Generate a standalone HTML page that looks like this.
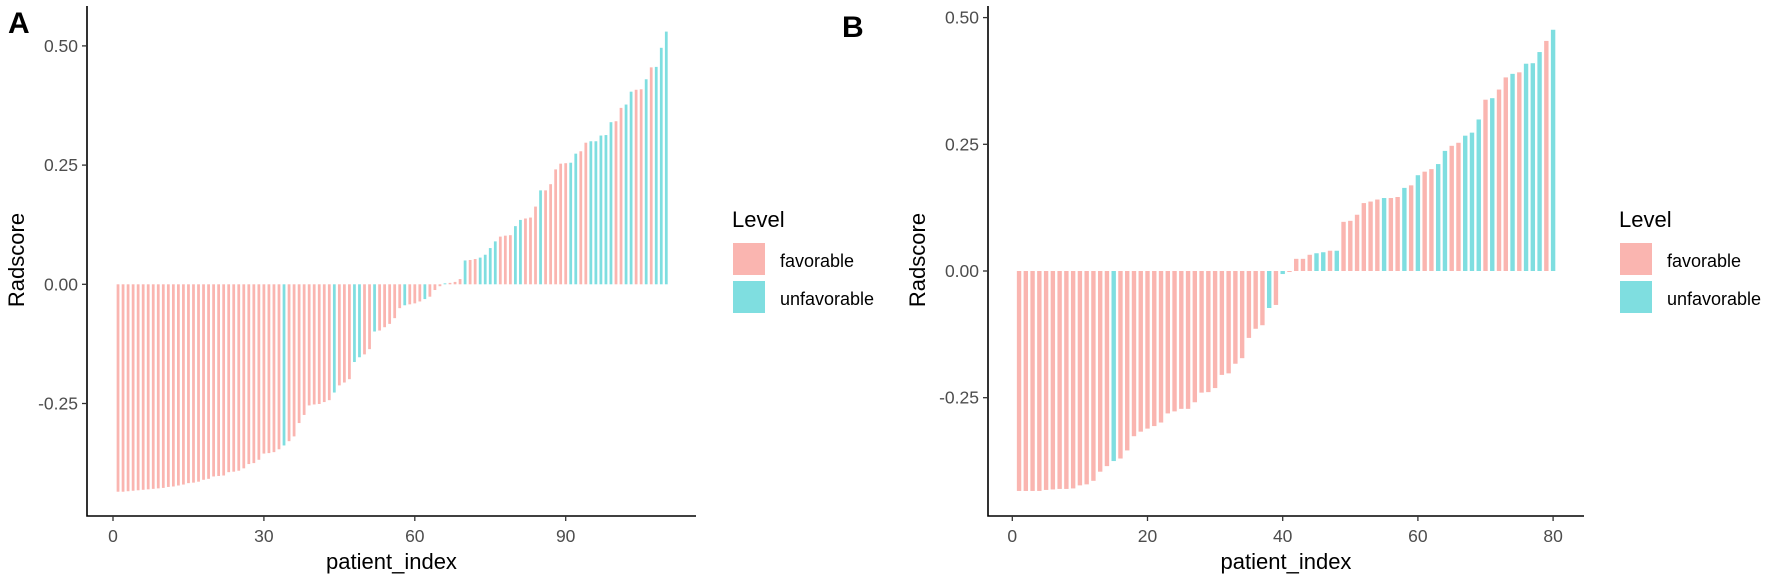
<!DOCTYPE html>
<html><head><meta charset="utf-8"><style>
html,body{margin:0;padding:0;background:#fff;width:1772px;height:582px;overflow:hidden}
svg{display:block;font-family:"Liberation Sans",Arial,sans-serif}
</style></head><body>
<svg id="chart" width="1772" height="582" viewBox="0 0 1772 582">
<text x="8" y="33" font-size="30" font-weight="bold" fill="#000">A</text>
<text x="842" y="37" font-size="30" font-weight="bold" fill="#000">B</text>
</svg>
<script>
// Panel A data
const aValues = [-0.435,-0.435,-0.434,-0.433,-0.432,-0.431,-0.430,-0.429,-0.428,-0.427,
-0.425,-0.424,-0.422,-0.420,-0.417,-0.416,-0.414,-0.410,-0.408,-0.403,
-0.402,-0.401,-0.394,-0.393,-0.391,-0.386,-0.377,-0.375,-0.368,-0.355,
-0.354,-0.352,-0.346,-0.338,-0.329,-0.319,-0.291,-0.274,-0.254,-0.252,
-0.251,-0.247,-0.243,-0.227,-0.212,-0.206,-0.199,-0.163,-0.153,-0.147,
-0.136,-0.099,-0.097,-0.090,-0.083,-0.071,-0.050,-0.044,-0.042,-0.040,
-0.036,-0.031,-0.026,-0.012,-0.004,0.002,0.003,0.005,0.011,0.050,
0.051,0.053,0.056,0.062,0.076,0.090,0.100,0.102,0.103,0.122,
0.135,0.138,0.140,0.163,0.197,0.197,0.210,0.241,0.253,0.254,
0.255,0.274,0.279,0.297,0.300,0.300,0.312,0.313,0.340,0.342,
0.370,0.377,0.404,0.408,0.409,0.430,0.455,0.456,0.496,0.530];
const aUnfavorable = [34,44,48,49,52,58,62,66,70,73,74,75,76,80,81,85,91,92,95,96,97,98,99,102,103,106,108,109,110];
const aXTicks = [0,30,60,90];
const aYTicks = [0.50,0.25,0.00,-0.25];
const aYTickLabels = ["0.50","0.25","0.00","-0.25"];
// Panel B data
const bValues = [-0.434,-0.434,-0.434,-0.434,-0.432,-0.431,-0.430,-0.430,-0.429,-0.423,
-0.421,-0.414,-0.396,-0.385,-0.375,-0.370,-0.354,-0.326,-0.317,-0.311,
-0.306,-0.299,-0.281,-0.277,-0.272,-0.272,-0.259,-0.240,-0.239,-0.231,
-0.205,-0.202,-0.183,-0.172,-0.132,-0.114,-0.107,-0.073,-0.067,-0.006,
-0.002,0.024,0.024,0.032,0.035,0.037,0.040,0.040,0.097,0.099,
0.111,0.134,0.137,0.141,0.144,0.144,0.146,0.164,0.169,0.189,
0.196,0.201,0.211,0.237,0.247,0.253,0.267,0.273,0.299,0.338,
0.341,0.358,0.382,0.389,0.392,0.409,0.410,0.432,0.454,0.476];
const bUnfavorable = [15,38,40,45,46,48,55,58,60,63,64,67,68,69,71,74,76,77,78,80];
const bXTicks = [0,20,40,60,80];
const bYTicks = [0.50,0.25,0.00,-0.25];
const bYTickLabels = ["0.50","0.25","0.00","-0.25"];

const NS = "http://www.w3.org/2000/svg";
const svg = document.getElementById('chart');
const PINK = "#FAB5B0", TEAL = "#7FDEE0";
function mk(tag, attrs, parent){
  const e = document.createElementNS(NS, tag);
  for (const k in attrs) e.setAttribute(k, attrs[k]);
  (parent||svg).appendChild(e); return e;
}
function panel(cfg){
  const g = mk('g', {});
  
  
  const xs = v => cfg.x0 + v*cfg.xk;
  const ys = v => cfg.y0 - v*cfg.yk;
  const bars = mk('g', {}, g);
  
  
  cfg.values.forEach((v,i)=>{
    const idx = i+1;
    const cx = xs(idx), w = cfg.bw*cfg.xk;
    const y1 = ys(Math.max(v,0)), y2 = ys(Math.min(v,0));
    const r = mk('rect', {x:cx-w/2, y:y1, width:w, height:Math.max(y2-y1,0.5),
      fill: cfg.unf.includes(idx)?TEAL:PINK}, bars);
    
    
  });
  // axes
  const ax = mk('path', {d:`M${cfg.left},${cfg.top} V${cfg.bottom} H${cfg.right}`, fill:'none', stroke:'#000', 'stroke-width':1.6}, g);
  
  
  cfg.xt.forEach(t=>{
    const x = xs(t);
    mk('line', {x1:x, x2:x, y1:cfg.bottom, y2:cfg.bottom+5, stroke:'#333', 'stroke-width':1.3}, g);
    const tx = mk('text', {x:x, y:542, 'font-size':17.5, fill:'#4d4d4d', 'text-anchor':'middle'}, g);
    tx.textContent = String(t);
    
    
  });
  cfg.yt.forEach((t,i)=>{
    const y = ys(t);
    mk('line', {x1:cfg.left-5, x2:cfg.left, y1:y, y2:y, stroke:'#333', 'stroke-width':1.3}, g);
    const tx = mk('text', {x:cfg.left-9, y:y+6, 'font-size':17.5, fill:'#4d4d4d', 'text-anchor':'end'}, g);
    tx.textContent = cfg.ytl[i];
    
    
  });
  const xt = mk('text', {x:(cfg.left+cfg.right)/2, y:569, 'font-size':22, fill:'#000', 'text-anchor':'middle'}, g);
  xt.textContent = 'patient_index';
  
  
  const yt = mk('text', {x:0, y:0, 'font-size':22, fill:'#000', 'text-anchor':'middle', transform:`translate(${cfg.ytx},260) rotate(-90)`}, g);
  yt.textContent = 'Radscore';
  
  
  // legend
  const lg = mk('g', {}, g);
  
  
  const lt = mk('text', {x:cfg.lx, y:227, 'font-size':22, fill:'#000'}, lg);
  lt.textContent = 'Level';
  
  
  [['favorable',PINK,243],['unfavorable',TEAL,281]].forEach(([lab,col,y])=>{
    const e = mk('g', {}, lg);
    
    
    mk('rect', {x:cfg.lx+1, y:y, width:32, height:32, fill:col}, e);
    const t = mk('text', {x:cfg.lx+48, y:y+24, 'font-size':18, fill:'#000'}, e);
    t.textContent = lab;
  });
}
panel({name:'panel-a', values:aValues, unf:aUnfavorable, xt:aXTicks, yt:aYTicks, ytl:aYTickLabels,
  x0:113, xk:5.03, y0:284.3, yk:476.8, bw:0.55, left:87, right:696, top:6, bottom:516, ytx:24, lx:732});
panel({name:'panel-b', values:bValues, unf:bUnfavorable, xt:bXTicks, yt:bYTicks, ytl:bYTickLabels,
  x0:1012.3, xk:6.76, y0:271, yk:506.8, bw:0.65, left:988, right:1584, top:6, bottom:516, ytx:925, lx:1619});
</script>
</body></html>
